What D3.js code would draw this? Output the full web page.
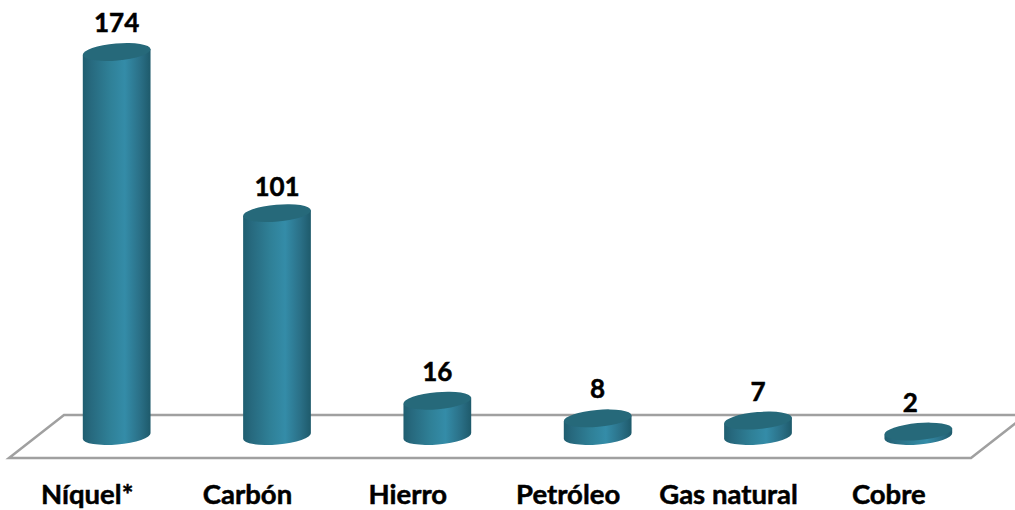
<!DOCTYPE html>
<html>
<head>
<meta charset="utf-8">
<script src="https://cdn.jsdelivr.net/npm/d3@7"></script>
<style>
    html, body { margin: 0; padding: 0; background: #fff; overflow: hidden; }
    text { font-family: Lato, sans-serif; font-weight: 700; fill: #000; stroke: #000; stroke-width: 0.5; }
</style>
</head>
<body>
<script>
const categories = ['Níquel*', 'Carbón', 'Hierro', 'Petróleo', 'Gas natural', 'Cobre'];
const values = [174, 101, 16, 8, 7, 2];

const width = 1015,
    height = 510,
    floor = { frontLeft: 9, frontRight: 971, front: 458, back: 415, skew: 55 },
    rx = 34,
    ry = 8.5,
    tilt = -5,
    dx = rx * Math.cos(tilt * Math.PI / 180),
    dy = rx * Math.sin(tilt * Math.PI / 180);

const svg = d3.select('body').append('svg')
    .attr('width', width)
    .attr('height', height);

// bars stand half way back on the floor, labels line up with its front edge
const x = d3.scaleBand()
    .domain(categories)
    .range([floor.frontLeft + floor.skew / 2, floor.frontRight + floor.skew / 2]);

const xLabels = d3.scaleBand()
    .domain(categories)
    .range([floor.frontLeft - 2, floor.frontRight - 2]);

const y = d3.scaleLinear()
    .domain([0, 174])
    .range([436, 52]);

const grad = svg.append('defs').append('linearGradient')
    .attr('id', 'barGradient')
    .attr('x1', 0).attr('x2', 1).attr('y1', 0).attr('y2', 0);

[[0, '#1f5e70'], [0.12, '#27697e'], [0.4, '#2f8097'], [0.62, '#348ca8'], [0.85, '#2a6f86'], [1, '#1e5a6b']].forEach(function (s) {
    grad.append('stop').attr('offset', s[0]).attr('stop-color', s[1]);
});

svg.append('polygon')
    .attr('points', [
        [floor.frontLeft, floor.front],
        [floor.frontRight, floor.front],
        [floor.frontRight + floor.skew, floor.back],
        [floor.frontLeft + floor.skew, floor.back]
    ].join(' '))
    .attr('fill', 'none')
    .attr('stroke', '#a0a0a0')
    .attr('stroke-width', 2.5);

const bars = svg.selectAll('g.bar')
    .data(categories.map(function (c, i) { return { name: c, value: values[i] }; }))
    .enter()
    .append('g')
    .classed('bar', true)
    .attr('transform', function (d) {
        return 'translate(' + (x(d.name) + x.bandwidth() / 2) + ',0)';
    });

bars.append('path')
    .attr('fill', 'url(#barGradient)')
    .attr('d', function (d) {
        const top = y(d.value), bottom = y(0);
        return 'M' + (-dx) + ',' + (top - dy)
            + 'L' + (-dx) + ',' + (bottom - dy)
            + 'A' + rx + ',' + ry + ',' + tilt + ',0,0,' + dx + ',' + (bottom + dy)
            + 'L' + dx + ',' + (top + dy)
            + 'Z';
    });

bars.append('ellipse')
    .attr('rx', rx)
    .attr('ry', ry)
    .attr('fill', '#26697a')
    .attr('transform', function (d) {
        return 'translate(0,' + y(d.value) + ') rotate(' + tilt + ')';
    });

bars.append('text')
    .text(function (d) { return d.value; })
    .attr('text-anchor', 'middle')
    .attr('font-size', 26)
    .attr('x', function (d) { return d.value === 2 ? -8 : 0; })  // the "2" sits left of its bar
    .attr('y', function (d) { return y(d.value) - (d.value === 101 ? 17 : 20); });

const axis = svg.append('g')
    .attr('transform', 'translate(0,' + floor.front + ')')
    .call(d3.axisBottom(xLabels).tickSize(0).tickPadding(26));

axis.select('.domain').remove();
axis.selectAll('text')
    .attr('font-size', 27.5)
    .style('font-family', 'Lato, sans-serif');
</script>
</body>
</html>
